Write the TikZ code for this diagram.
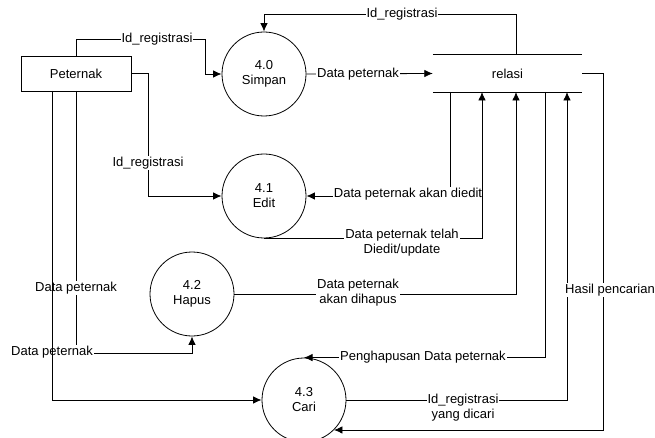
\documentclass[tikz,border=0pt]{standalone}
\usepackage{fontspec}
\setmainfont{Liberation Sans}
\usetikzlibrary{arrows.meta,calc}
\begin{document}
\begin{tikzpicture}[x=1pt,y=-1pt,
  every node/.style={font=\fontsize{13}{15}\selectfont},
  entity/.style={draw,line width=0.8pt,minimum width=110pt,minimum height=35pt,inner sep=0pt},
  process/.style={draw,circle,line width=0.8pt,minimum size=84pt,inner sep=0pt,align=center},
  flow/.style={line width=0.8pt,-{Latex[length=8.5pt,width=7.5pt]}},
  plain/.style={line width=0.8pt},
  lbl/.style={fill=white,inner sep=1pt,align=center}]
\useasboundingbox (0,0) rectangle (655,438);

% external entity
\node[entity] (peternak) at (76,73.5) {Peternak};

% processes
\node[process] (simpan) at (264,74) {4.0\\Simpan};
\node[process] (edit) at (264,196) {4.1\\Edit};
\node[process] (hapus) at (192,294) {4.2\\Hapus};
\node[process] (cari) at (304,400) {4.3\\Cari};

% data store
\node[minimum width=149pt,minimum height=37pt,inner sep=0pt] (store) at (507.5,73.5) {relasi};
\draw[plain] (store.north west) -- (store.north east);
\draw[plain] (store.south west) -- (store.south east);

% attachment points on the store
\coordinate (stop) at (516,55);
\coordinate (s1) at (450,92);
\coordinate (s2) at (482,92);
\coordinate (s3) at (516,92);
\coordinate (s4) at (545,92);
\coordinate (s5) at (567,92);

% Peternak -> Simpan
\draw[flow] (peternak.north) |- (205,39) |- (simpan.west);
\node[lbl] at (157,39) {Id\_registrasi};

% relasi -> Simpan
\draw[flow] (stop) -- (516,14) -| (simpan.north);
\node[lbl] at (402,14) {Id\_registrasi};

% Simpan -> relasi
\draw[flow] (simpan.east) -- (store.west);
\node[lbl] at (358,74) {Data peternak};

% Peternak -> Edit
\draw[flow] (peternak.east) -- (148,73.5) |- (edit.west);
\node[lbl] at (148,163) {Id\_registrasi};

% relasi -> Edit
\draw[flow] (s1) |- (edit.east);
\node[lbl] at (408,194) {Data peternak akan diedit};

% Edit -> relasi
\draw[flow] (edit.south) -| (s2);
\node[lbl] at (402,243) {Data peternak telah\\Diedit/update};

% Hapus -> relasi
\draw[flow] (hapus.east) -| (s3);
\node[lbl] at (358,293) {Data peternak\\akan dihapus};

% relasi -> Cari
\draw[flow] (s4) |- (cari.north);
\node[lbl] at (423,357) {Penghapusan Data peternak};

% Cari -> relasi
\draw[flow] (cari.east) -| (s5);
\node[lbl] at (463,408) {Id\_registrasi\\yang dicari};

% relasi -> Cari (search result)
\draw[flow] (store.east) -- (603,73.5) |- (cari.-45.6);
\node[lbl] at (610,290) {Hasil pencarian};

% Peternak -> Hapus
\draw[flow] (76,91) |- (192,353) -- (hapus.south);
\node[lbl] at (76,288) {Data peternak};
\node[lbl] at (52,352) {Data peternak};

% Peternak -> Cari
\draw[flow] (52,91) |- (cari.west);
\end{tikzpicture}
\end{document}
